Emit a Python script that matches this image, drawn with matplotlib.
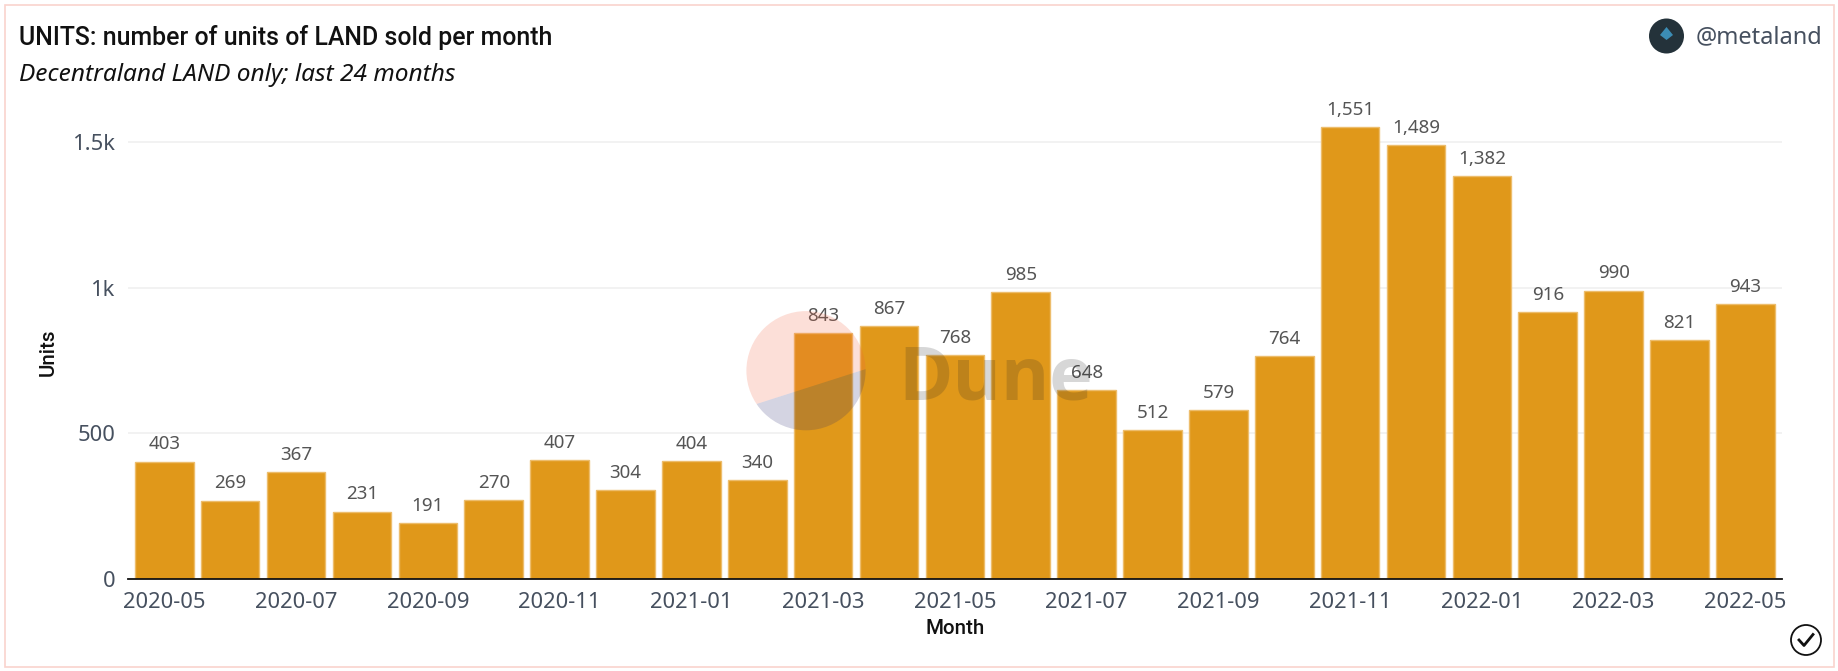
import matplotlib
matplotlib.use('Agg')
import matplotlib.pyplot as plt
from matplotlib.patches import Circle, Polygon, Rectangle

months = ['2020-05', '2020-06', '2020-07', '2020-08', '2020-09', '2020-10', '2020-11', '2020-12',
          '2021-01', '2021-02', '2021-03', '2021-04', '2021-05', '2021-06', '2021-07', '2021-08',
          '2021-09', '2021-10', '2021-11', '2021-12', '2022-01', '2022-02', '2022-03', '2022-04', '2022-05']
units = [403, 269, 367, 231, 191, 270, 407, 304, 404, 340, 843, 867, 768, 985, 648, 512,
         579, 764, 1551, 1489, 1382, 916, 990, 821, 943]
y_ticks = [0, 500, 1000, 1500]
y_tick_labels = ['0', '500', '1k', '1.5k']

W, H = 1838, 671
plt.rcParams['font.family'] = 'Noto Sans'

fig = plt.figure(figsize=(W / 100, H / 100), dpi=100, facecolor='white')

# plot area, in pixels of the screenshot
left, right, bottom, top = 128, 1782, 579, 113
ax = fig.add_axes([left / W, 1 - bottom / H, (right - left) / W, (bottom - top) / H])

x = list(range(len(months)))
ax.bar(x, units, width=0.89, color='#E0981A', edgecolor='#EDBD6C', linewidth=1, zorder=3)
for i, v in zip(x, units):
    ax.annotate(f'{v:,}', (i, v), xytext=(0, 6), textcoords='offset points', ha='center', va='bottom',
                fontsize=13.5, color='#555555', zorder=6)

ax.set_xlim(-0.551, 24.555)
ax.set_ylim(0, 1600)
ax.set_xticks(x[::2])
ax.set_xticklabels(months[::2], fontsize=15.8, color='#46505F')
ax.set_yticks(y_ticks)
ax.set_yticklabels(y_tick_labels, fontsize=15.8, color='#46505F')
ax.tick_params(axis='both', length=0)
ax.tick_params(axis='x', pad=9)
ax.tick_params(axis='y', pad=9)
ax.grid(axis='y', color='#F0F0F0', linewidth=1.2, zorder=0)
for s in ['top', 'right', 'left']:
    ax.spines[s].set_visible(False)
ax.spines['bottom'].set_color('#111111')
ax.spines['bottom'].set_linewidth(1.3)
ax.spines['bottom'].set_zorder(5)

# everything else sits on a transparent overlay in pixel coords
ov = fig.add_axes([0, 0, 1, 1], facecolor='none')
ov.set_xlim(0, W)
ov.set_ylim(H, 0)
ov.axis('off')

ov.add_patch(Rectangle((4.5, 4.5), W - 9, H - 9, fill=False, edgecolor='#FAD3CD', linewidth=1.2))

ov.text(19, 37, 'UNITS: number of units of LAND sold per month', fontsize=17.9, color='#111111',
        va='center', ha='left', family='Roboto', fontweight='medium')
ov.text(19, 75, 'Decentraland LAND only; last 24 months', fontsize=17.6, color='#111111',
        va='center', ha='left', style='italic')
ov.text(955, 629, 'Month', fontsize=14.8, color='#111111', va='center', ha='center', family='Roboto', fontweight='medium')
ov.text(48, 352, 'Units', fontsize=14.8, color='#111111', va='center', ha='center', rotation=90, family='Roboto', fontweight='medium')

# avatar and handle
ov.add_patch(Circle((1666.5, 36), 17.5, facecolor='#24323A', edgecolor='none'))
ov.add_patch(Polygon([(1666.5, 27), (1673, 35), (1666.5, 40), (1660, 35)], facecolor='#3C8DB5', edgecolor='none'))
ov.text(1822, 37, '@metaland', fontsize=17, color='#46505F', va='center', ha='right')

# Dune watermark
pink = Circle((806, 370.7), 59.6, facecolor='none', edgecolor='none')
ov.add_patch(pink)
top_part = Polygon([(740, 409.3), (880, 364.5), (880, 300), (740, 300)], facecolor='#F4603E', alpha=0.2,
                   edgecolor='none', zorder=7)
low_part = Polygon([(740, 409.3), (880, 364.5), (880, 440), (740, 440)], facecolor='#2A2A6E', alpha=0.2,
                   edgecolor='none', zorder=7)
ov.add_patch(top_part)
ov.add_patch(low_part)
top_part.set_clip_path(pink)
low_part.set_clip_path(pink)
ov.text(898, 400, 'Dune', fontsize=53, family='Open Sans', fontweight='bold', color='#222222', alpha=0.18,
        va='baseline', ha='left', zorder=7)

# check mark at the corner
ov.add_patch(Circle((1806, 640), 15, fill=False, edgecolor='#111111', linewidth=1.3))
ov.plot([1799, 1804, 1813], [640, 645.5, 634.5], color='#111111', linewidth=2)

fig.savefig('out.png', dpi=100, facecolor='white')
